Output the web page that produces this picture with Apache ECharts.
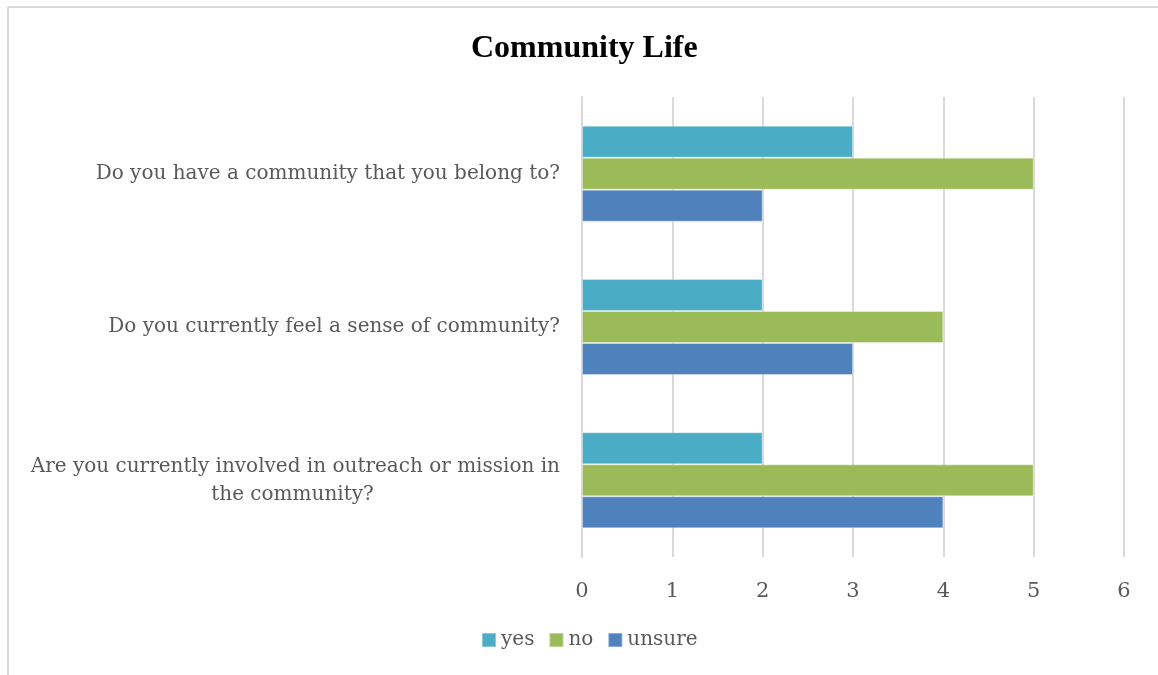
<!DOCTYPE html>
<html>
<head>
<meta charset="utf-8">
<script src="https://cdn.jsdelivr.net/npm/echarts@6/dist/echarts.min.js"></script>
<style>
  html, body { margin: 0; padding: 0; background: #fff; }
  #chart { width: 1158px; height: 675px; }
</style>
</head>
<body>
<div id="chart"></div>
<script>
// questions, top to bottom
const questions = [
  'Do you have a community that you belong to?',
  'Do you currently feel a sense of community?',
  'Are you currently involved in outreach or mission in\nthe community?'
];
const seriesNames = ['yes', 'no', 'unsure'];
const yesData = [3, 2, 2];
const noData = [5, 4, 5];
const unsureData = [2, 3, 4];
const xTicks = [0, 1, 2, 3, 4, 5, 6];

const colors = ['#4BACC6', '#9BBB59', '#4F81BD'];
const labelFont = 'DejaVu Serif';

const chart = echarts.init(document.getElementById('chart'));

function barSeries(name, data, color) {
  return {
    name: name,
    type: 'bar',
    data: data,
    barWidth: 32,
    barGap: '0%',
    itemStyle: { color: color, borderColor: 'rgba(255,255,255,0.35)', borderWidth: 1 },
    emphasis: { disabled: true }
  };
}

const option = {
  animation: false,
  title: {
    text: 'Community Life',
    left: 466,
    top: 28,
    textStyle: { fontFamily: 'Liberation Serif', fontWeight: 'bold', fontSize: 32, color: '#000' }
  },
  legend: {
    bottom: 20,
    left: 476,
    itemWidth: 14,
    itemHeight: 14,
    itemGap: 14,
    icon: 'rect',
    data: seriesNames,
    textStyle: { fontFamily: labelFont, fontSize: 20, color: '#595959' }
  },
  grid: { left: 582, right: 34, top: 97, bottom: 118 },
  xAxis: {
    type: 'value',
    min: 0,
    max: xTicks[xTicks.length - 1],
    interval: 1,
    axisLine: { show: false },
    axisTick: { show: false },
    splitLine: { lineStyle: { color: '#d9d9d9', width: 2 } },
    axisLabel: { margin: 24, fontFamily: labelFont, fontSize: 21, color: '#595959' }
  },
  yAxis: {
    type: 'category',
    inverse: true,
    data: questions,
    axisLine: { lineStyle: { color: '#d9d9d9', width: 2 } },
    axisTick: { show: false },
    axisLabel: {
      margin: 22,
      fontFamily: labelFont,
      fontSize: 20,
      color: '#595959',
      formatter: function (v) {
        const parts = v.split('\n');
        if (parts.length === 1) return v;
        return '{a|' + parts[0] + '}\n{b|' + parts[1] + '}';
      },
      rich: {
        a: { fontFamily: labelFont, fontSize: 20, color: '#595959', lineHeight: 28 },
        b: { fontFamily: labelFont, fontSize: 20, color: '#595959', lineHeight: 28, width: 535, align: 'center' }
      }
    }
  },
  series: [
    barSeries('yes', yesData, colors[0]),
    barSeries('no', noData, colors[1]),
    barSeries('unsure', unsureData, colors[2])
  ],
  graphic: [
    { type: 'line', shape: { x1: 8, y1: 7, x2: 8, y2: 675 }, style: { stroke: '#d9d9d9', lineWidth: 2 } },
    { type: 'line', shape: { x1: 8, y1: 7, x2: 1158, y2: 7 }, style: { stroke: '#d9d9d9', lineWidth: 2 } }
  ]
};

chart.setOption(option);
</script>
</body>
</html>
